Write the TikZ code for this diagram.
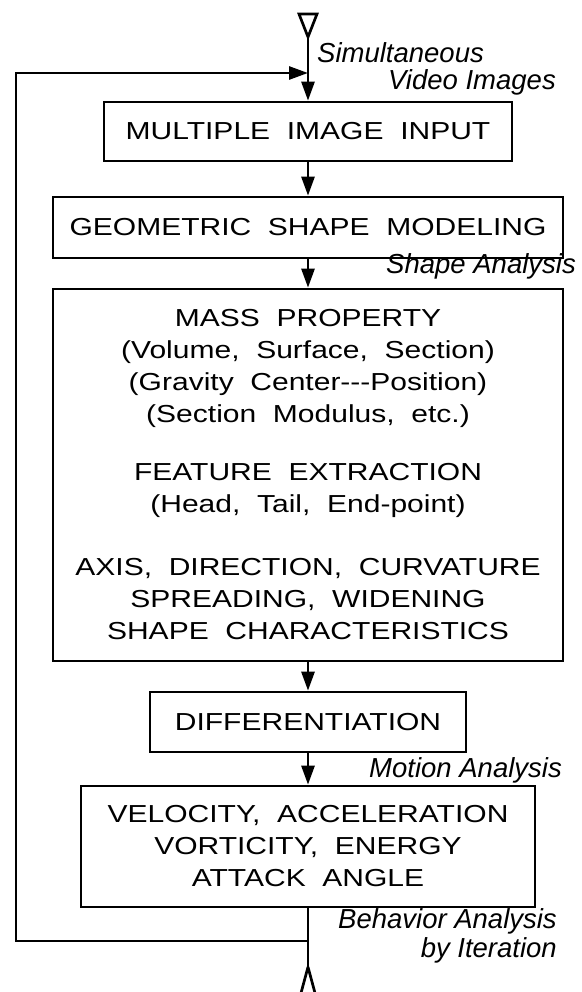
\documentclass[tikz,border=0pt]{standalone}
\usepackage{fontspec}
\setmainfont{Liberation Sans}
\newfontfamily\boxfont[FakeStretch=1.22,WordSpace=2.0]{Liberation Sans}
\newfontfamily\labfont{Liberation Sans}
\usetikzlibrary{arrows.meta}
\tikzset{
  box/.style={draw, line width=2.7pt, inner sep=0pt, align=center,
    font=\boxfont\fontsize{24.6}{32}\selectfont},
  flow/.style={line width=2.7pt, -{Triangle[length=19pt,width=13pt]}},
  wire/.style={line width=2.7pt},
  lab/.style={font=\labfont\itshape\fontsize{27.5}{33}\selectfont, inner sep=0pt},
}
\begin{document}
\begin{tikzpicture}[x=1pt,y=-1pt]
\useasboundingbox (0,0) rectangle (581,992);
% boxes
\node[box, minimum width=408pt, minimum height=59pt] (b1) at (308,131.5) {MULTIPLE IMAGE INPUT};
\node[box, minimum width=510pt, minimum height=61pt] (b2) at (308,227.5) {GEOMETRIC SHAPE MODELING};
\node[box, minimum width=510pt, minimum height=372pt] (b3) at (308,475)
  {MASS PROPERTY\\ (Volume, Surface, Section)\\ (Gravity Center-{}-{}-Position)\\ (Section Modulus, etc.)\\[26pt]
   FEATURE EXTRACTION\\ (Head, Tail, End-point)\\[31pt]
   AXIS, DIRECTION, CURVATURE\\ SPREADING, WIDENING\\ SHAPE CHARACTERISTICS};
\node[box, minimum width=316pt, minimum height=60pt] (b4) at (308,722) {DIFFERENTIATION};
\node[box, minimum width=454pt, minimum height=121pt] (b5) at (308,846.5)
  {VELOCITY, ACCELERATION\\ VORTICITY, ENERGY\\ ATTACK ANGLE};
% coordinates
\coordinate (tin) at (308,37);
\coordinate (j1) at (308,73);
\coordinate (fbT) at (16,73);
\coordinate (fbB) at (16,941);
\coordinate (j2) at (308,941);
\coordinate (tout) at (308,967);
% input terminal
\draw[wire, line join=miter] (tin) -- ++(-9,-23) -- ++(18,0) -- cycle;
\draw[flow] (tin) -- (b1.north);
\draw[flow] (b1.south) -- (b2.north);
\draw[flow] (b2.south) -- (b3.north);
\draw[flow] (b3.south) -- (b4.north);
\draw[flow] (b4.south) -- (b5.north);
\draw[wire] (b5.south) -- (tout);
\draw[wire] (tout) -- ++(-7,26) (tout) -- ++(7,26);
% feedback
\draw[flow] (j2) -- (fbB) -- (fbT) -- (j1);
% labels
\node[lab, anchor=base west] (l1) at (317,63) {Simultaneous};
\node[lab, anchor=base east] (l2) at (556,90) {Video Images};
\node[lab, anchor=base east] (l3) at (576,273) {Shape Analysis};
\node[lab, anchor=base east] (l4) at (562,777) {Motion Analysis};
\node[lab, anchor=base east] (l5) at (557,928) {Behavior Analysis};
\node[lab, anchor=base east] (l6) at (557,957) {by Iteration};
\end{tikzpicture}
\end{document}
